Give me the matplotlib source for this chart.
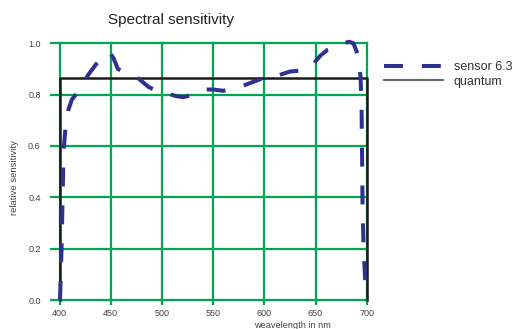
import matplotlib
matplotlib.use("Agg")
import matplotlib.pyplot as plt
from matplotlib.lines import Line2D

plt.rcParams['font.family'] = ['Liberation Sans', 'DejaVu Sans']

# sensor 6.3 relative sensitivity
sensor_nm = [400.5, 402, 403, 404, 406, 408.6, 412, 416.8, 422, 428, 436, 443, 449, 453,
             457, 465, 475, 487, 497, 505, 513, 521, 530, 540, 550, 560, 576, 586,
             596, 610, 625, 640, 648, 655, 662, 670, 677, 683, 687, 690, 692, 694,
             695, 695.5, 696, 697, 698.5, 700]
sensor_val = [0.0, 0.2, 0.4, 0.58, 0.68, 0.74, 0.78, 0.805, 0.84, 0.877, 0.92, 0.95, 0.965, 0.94,
              0.90, 0.885, 0.87, 0.83, 0.81, 0.805, 0.795, 0.79, 0.80, 0.82, 0.82, 0.815, 0.83, 0.845,
              0.86, 0.87, 0.89, 0.895, 0.92, 0.953, 0.975, 0.985, 1.0, 1.006, 1.0, 0.97, 0.935, 0.87,
              0.75, 0.55, 0.35, 0.2, 0.08, 0.0]

# quantum (ideal) response
quantum_nm = [400, 400, 700, 700]
quantum_val = [0.0, 0.865, 0.865, 0.0]

xticks = [400, 450, 500, 550, 600, 650, 700]
yticks = [0.0, 0.2, 0.4, 0.6, 0.8, 1.0]

GREEN = "#00a651"
NAVY = "#2e3192"

fig = plt.figure(figsize=(5.13, 3.29), dpi=100)
ax = fig.add_axes([59.5 / 513, 1 - 300 / 329, (366.7 - 59.5) / 513, (300 - 43.3) / 329])

ax.set_xlim(400, 700)
ax.set_ylim(0, 1.0)
ax.set_xticks(xticks)
ax.set_yticks(yticks)
ax.set_yticklabels(["{:.1f}".format(v) for v in yticks])
ax.grid(True, color=GREEN, linewidth=1.6)
for gl in ax.get_xgridlines() + ax.get_ygridlines():
    gl.set_clip_on(False)
for s in ax.spines.values():
    s.set_visible(False)
ax.tick_params(axis="y", length=7.5, width=1.6, color=GREEN, labelsize=6.5, labelcolor="#444444", pad=6)
ax.tick_params(axis="x", length=3.5, width=1.6, color=GREEN, labelsize=6.5, labelcolor="#444444", pad=3)

ax.plot(quantum_nm, quantum_val, color="#1a1a1a", linewidth=1.8, clip_on=False, zorder=3)
ax.plot(sensor_nm, sensor_val, color=NAVY, linewidth=2.9, linestyle=(0, (4.7, 4.7)),
        clip_on=False, zorder=4)

fig.text(171 / 513, 1 - 20 / 329, "Spectral sensitivity", ha="center", va="center", fontsize=11, color="#222222")
fig.text(15 / 513, 1 - 178 / 329, "relative sensitivity", rotation=90, ha="center", va="center",
         fontsize=6.8, color="#444444")
fig.text(292 / 513, 1 - 325 / 329, "weavelength in nm", ha="center", va="center", fontsize=6.6, color="#444444")

handles = [Line2D([], [], color=NAVY, linewidth=2.9, linestyle=(0, (4.7, 4.7))),
           Line2D([], [], color="#666666", linewidth=1.5)]
fig.legend(handles, ["sensor 6.3", "quantum"], loc="upper left",
           bbox_to_anchor=(384 / 513, 1 - 61 / 329), frameon=False, fontsize=9, labelcolor="#333333",
           handlelength=4.7, handletextpad=0.9, labelspacing=0.22, borderpad=0, borderaxespad=0)

fig.savefig("out.png", dpi=100)
